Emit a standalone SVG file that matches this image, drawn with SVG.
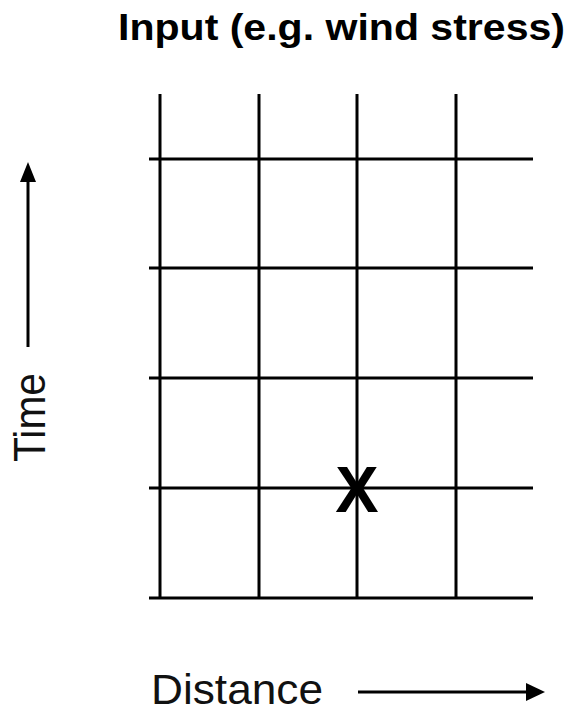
<svg xmlns="http://www.w3.org/2000/svg" width="567" height="714" viewBox="0 0 567 714">
<style>
.grid line{stroke:#000;stroke-width:3;}
.ax{stroke:#000;stroke-width:3;fill:none;}
.lbl{font-family:"Liberation Sans",Arial,sans-serif;font-size:44px;fill:#111;}
.title{font-family:"Liberation Sans",Arial,sans-serif;font-size:37px;font-weight:bold;fill:#000;}
</style>
<rect width="567" height="714" fill="#fff"/>
<g id="title"><text class="title" x="118" y="40" textLength="447" lengthAdjust="spacingAndGlyphs">Input (e.g. wind stress)</text></g>
<g id="grid" class="grid">
<line x1="160" y1="94" x2="160" y2="598"/>
<line x1="259" y1="94" x2="259" y2="598"/>
<line x1="357" y1="94" x2="357" y2="598"/>
<line x1="456" y1="94" x2="456" y2="598"/>
<line x1="149" y1="159" x2="533" y2="159"/>
<line x1="149" y1="268" x2="533" y2="268"/>
<line x1="149" y1="378" x2="533" y2="378"/>
<line x1="149" y1="488" x2="533" y2="488"/>
<line x1="149" y1="598" x2="533" y2="598"/>
</g>
<g id="mark"><text x="357" y="512" text-anchor="middle" font-family="Liberation Sans,Arial,sans-serif" font-weight="bold" font-size="65">X</text></g>
<g id="connectors">
<line class="ax" x1="28" y1="347" x2="28" y2="178"/>
<polygon points="28,162 20,182 36,182" fill="#000"/>
<line class="ax" x1="358" y1="692" x2="530" y2="692"/>
<polygon points="545,692 526,683 526,701" fill="#000"/>
</g>
<g id="time-label"><text class="lbl" transform="translate(45,417.5) rotate(-90)" text-anchor="middle" textLength="89" lengthAdjust="spacingAndGlyphs">Time</text></g>
<g id="distance-label"><text class="lbl" style="font-size:43px" x="151" y="704" textLength="172" lengthAdjust="spacingAndGlyphs">Distance</text></g>
</svg>
